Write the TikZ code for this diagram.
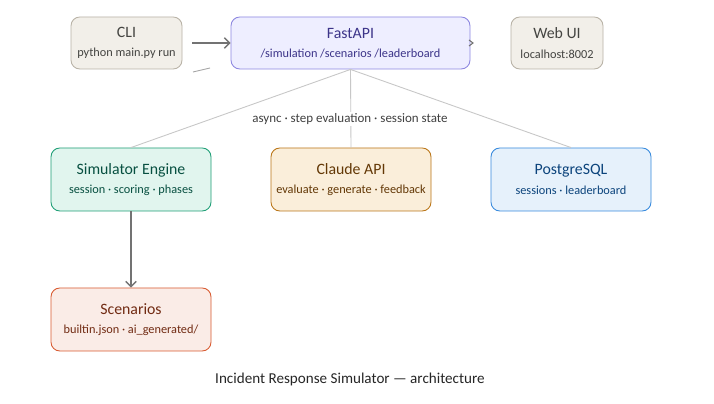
\documentclass[tikz,border=0pt]{standalone}
\usepackage{fontspec}
\setmainfont{Carlito}
\usetikzlibrary{positioning,arrows.meta}
\definecolor{grayfill}{HTML}{F2EFE9}\definecolor{graydraw}{HTML}{B8B2A6}\definecolor{graytext}{HTML}{444441}
\definecolor{purpfill}{HTML}{EEEEFF}\definecolor{purpdraw}{HTML}{8C86E0}\definecolor{purptext}{HTML}{3C3489}
\definecolor{tealfill}{HTML}{E1F5EE}\definecolor{tealdraw}{HTML}{1D9E75}\definecolor{tealtext}{HTML}{085041}
\definecolor{ambfill}{HTML}{FAEEDA}\definecolor{ambdraw}{HTML}{BA7517}\definecolor{ambtext}{HTML}{633806}
\definecolor{bluefill}{HTML}{E6F1FB}\definecolor{bluedraw}{HTML}{378ADD}\definecolor{bluetext}{HTML}{0C447C}
\definecolor{corfill}{HTML}{FAECE7}\definecolor{cordraw}{HTML}{D85A30}\definecolor{cortext}{HTML}{712B13}
\tikzset{
    box/.style={rectangle, rounded corners=5pt, draw=#1draw, fill=#1fill, text=#1text,
        line width=0.5pt, align=center, inner xsep=1pt, font=\fontsize{9}{12}\selectfont},
    link/.style={draw=black!22, line width=0.5pt},
    arr/.style={draw=black!55, line width=0.8pt, -{Straight Barb[length=3pt,width=6pt]}},
}
\newcommand{\boxtext}[2]{#1\\[-1pt]{\fontsize{7}{9}\selectfont #2}}
\begin{document}
\begin{tikzpicture}[x=0.02cm,y=-0.02cm]
    \fill[white] (0,0) rectangle (714,404);
    \node[box=gray, minimum width=111*0.02cm, minimum height=52*0.02cm] (cli) at (126.5,43) {\boxtext{CLI}{python main.py run}};
    \node[box=purp, minimum width=239*0.02cm, minimum height=52*0.02cm] (api) at (350.5,43) {\boxtext{FastAPI}{/simulation /scenarios /leaderboard}};
    \node[box=gray, minimum width=92*0.02cm, minimum height=52*0.02cm] (web) at (557,43) {\boxtext{Web UI}{localhost:8002}};
    \node[box=teal, minimum width=160*0.02cm, minimum height=63*0.02cm] (sim) at (131,179.5) {\boxtext{Simulator Engine}{session · scoring · phases}};
    \node[box=amb, minimum width=160*0.02cm, minimum height=63*0.02cm] (claude) at (351,179.5) {\boxtext{Claude API}{evaluate · generate · feedback}};
    \node[box=blue, minimum width=160*0.02cm, minimum height=63*0.02cm] (pg) at (571,179.5) {\boxtext{PostgreSQL}{sessions · leaderboard}};
    \node[box=cor, minimum width=160*0.02cm, minimum height=63*0.02cm] (scen) at (131,319.5) {\boxtext{Scenarios}{builtin.json · ai\_generated/}};
    % connectors
    \draw[link] (api.south) -- (sim.north);
    \draw[link] (api.south) -- (claude.north);
    \draw[link] (api.south) -- (pg.north);
    \node[fill=white, inner sep=1pt, font=\fontsize{7.4}{9}\selectfont, text=black!75] (note) at (350,119) {async · step evaluation · session state};
    \draw[arr] (cli.east) ++(10,0) coordinate (c0) -- (api.west);
    \draw[arr] (sim.south) -- (scen.north);
    \draw[black!55, line width=0.6pt] (469,40) -- (473,43) -- (469,46);
    \draw[black!35, line width=0.5pt] (193,72) -- (210,68);
    \node[font=\fontsize{8.6}{11}\selectfont, text=black!85] (title) at (350,379) {Incident Response Simulator — architecture};
\end{tikzpicture}
\end{document}
